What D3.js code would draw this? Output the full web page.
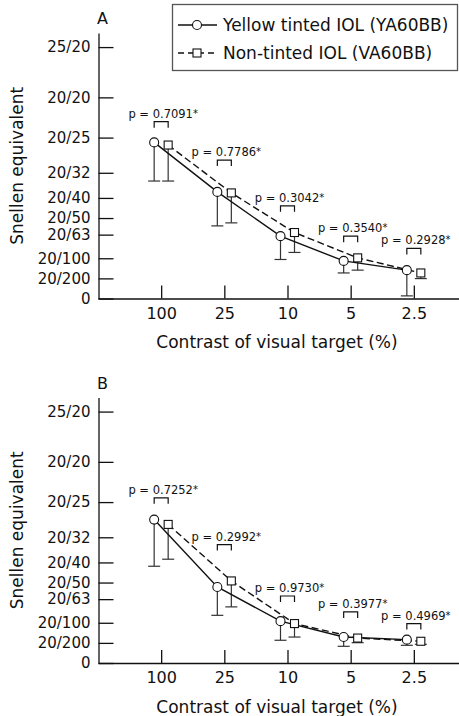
<!DOCTYPE html>
<html>
<head>
<meta charset="utf-8">
<script src="https://cdn.jsdelivr.net/npm/d3@7"></script>
<style>
  body { margin: 0; background: #fff; }
  text { font-family: "DejaVu Sans", sans-serif; fill: #111; }
</style>
</head>
<body>
<svg id="chart" width="459" height="716"></svg>
<script>
// categories + axis ticks (decimal acuity shown as Snellen)
const contrasts = ["100", "25", "10", "5", "2.5"];
const snellenTicks = [0, 0.1, 0.2, 0.3175, 0.4, 0.5, 0.625, 0.8, 1.0, 1.25];
const snellenLabels = ["0", "20/200", "20/100", "20/63", "20/50", "20/40", "20/32", "20/25", "20/20", "25/20"];

// panel A
const yellowA = [0.776, 0.530, 0.310, 0.187, 0.141];
const yellowSdA = [0.192, 0.169, 0.116, 0.060, 0.128];
const nonTintedA = [0.763, 0.525, 0.328, 0.202, 0.127];
const nonTintedSdA = [0.179, 0.149, 0.099, 0.061, 0.028];
const pValuesA = ["0.7091", "0.7786", "0.3042", "0.3540", "0.2928"];
const bracketA = [0.879, 0.688, 0.461, 0.310, 0.249];

// panel B
const yellowB = [0.713, 0.378, 0.208, 0.129, 0.116];
const yellowSdB = [0.232, 0.141, 0.095, 0.046, 0.028];
const nonTintedB = [0.689, 0.408, 0.196, 0.124, 0.108];
const nonTintedSdB = [0.173, 0.129, 0.067, 0.023, 0.015];
const pValuesB = ["0.7252", "0.2992", "0.9730", "0.3977", "0.4969"];
const bracketB = [0.821, 0.589, 0.333, 0.254, 0.196];

const svg = d3.select("#chart");

const x = d3.scalePoint().domain(contrasts).range([98, 477]).padding(1);
const y = d3.scaleLinear().domain([0, 1.32]).range([298.5, 33]);
const off = 7; // side-by-side shift of the two groups

function drawPanel(top, letter, yel, yelSd, non, nonSd, pvals, brackets, legend) {
  const g = svg.append("g").attr("transform", `translate(0,${top})`);

  // y axis
  const ya = g.append("g")
    .attr("transform", "translate(98.5,0)")
    .call(d3.axisLeft(y).tickValues(snellenTicks)
      .tickFormat((d, i) => snellenLabels[i])
      .tickSizeInner(-15).tickSizeOuter(0).tickPadding(8))
    .attr("font-size", 15);
  ya.selectAll("path, line").attr("stroke", "#111").attr("stroke-width", 1.3);

  // x axis
  const xa = g.append("g")
    .attr("transform", `translate(0,${y(0)})`)
    .call(d3.axisBottom(x).tickSizeInner(-13).tickSizeOuter(0).tickPadding(9))
    .attr("font-size", 16);
  xa.selectAll("path, line").attr("stroke", "#111").attr("stroke-width", 1.3);

  g.append("text")
    .attr("x", 97).attr("y", 24)
    .attr("font-size", 16)
    .text(letter);

  g.append("text")
    .attr("transform", `translate(23,${(y(0) + y.range()[1]) / 2}) rotate(-90)`)
    .attr("text-anchor", "middle")
    .attr("font-size", 17)
    .text("Snellen equivalent");

  g.append("text")
    .attr("x", 277).attr("y", 348)
    .attr("text-anchor", "middle")
    .attr("font-size", 17)
    .text("Contrast of visual target (%)");

  const series = [
    { vals: yel, sd: yelSd, dx: -off, dash: null },
    { vals: non, sd: nonSd, dx: off, dash: "7,3.5" }
  ];

  // error bars (lower side only)
  series.forEach(s => {
    const eb = g.append("g").attr("stroke", "#333").attr("stroke-width", 1.2);
    eb.selectAll("line.v").data(s.vals).enter().append("line")
      .attr("x1", (d, i) => x(contrasts[i]) + s.dx)
      .attr("x2", (d, i) => x(contrasts[i]) + s.dx)
      .attr("y1", d => y(d))
      .attr("y2", (d, i) => y(d - s.sd[i]));
    eb.selectAll("line.c").data(s.vals).enter().append("line")
      .attr("x1", (d, i) => x(contrasts[i]) + s.dx - 6)
      .attr("x2", (d, i) => x(contrasts[i]) + s.dx + 6)
      .attr("y1", (d, i) => y(d - s.sd[i]))
      .attr("y2", (d, i) => y(d - s.sd[i]));
  });

  // lines
  series.forEach(s => {
    const line = d3.line()
      .x((d, i) => x(contrasts[i]) + s.dx)
      .y(d => y(d));
    g.append("path").datum(s.vals)
      .attr("d", line)
      .attr("fill", "none")
      .attr("stroke", "#111")
      .attr("stroke-width", 1.4)
      .attr("stroke-dasharray", s.dash);
  });

  // markers
  g.selectAll("circle.m").data(yel).enter().append("circle")
    .attr("cx", (d, i) => x(contrasts[i]) - off)
    .attr("cy", d => y(d))
    .attr("r", 4.5)
    .attr("fill", "#fff").attr("stroke", "#111").attr("stroke-width", 1.1);
  g.selectAll("rect.m").data(non).enter().append("rect")
    .attr("x", (d, i) => x(contrasts[i]) + off - 4)
    .attr("y", d => y(d) - 4)
    .attr("width", 8).attr("height", 8)
    .attr("fill", "#fff").attr("stroke", "#111").attr("stroke-width", 1.1);

  // p-value brackets
  const br = g.append("g");
  br.selectAll("path").data(brackets).enter().append("path")
    .attr("d", (d, i) => {
      const x0 = x(contrasts[i]) - off, x1 = x(contrasts[i]) + off, yy = y(d);
      return `M${x0},${yy + 6}V${yy}H${x1}V${yy + 6}`;
    })
    .attr("fill", "none").attr("stroke", "#111").attr("stroke-width", 1.2);
  const lbl = br.selectAll("text").data(brackets).enter().append("text")
    .attr("x", (d, i) => x(contrasts[i]) + 2)
    .attr("y", d => y(d) - 4)
    .attr("text-anchor", "middle")
    .attr("font-size", 11.5);
  lbl.append("tspan").text((d, i) => "p = " + pvals[i]);
  lbl.append("tspan").attr("font-size", 10).attr("dy", -1).text("*");

  if (legend) {
    const lg = g.append("g");
    lg.append("rect")
      .attr("x", 172.5).attr("y", 4.5).attr("width", 285).attr("height", 66)
      .attr("fill", "#fff").attr("stroke", "#555").attr("stroke-width", 1.3);
    const rows = [
      { label: "Yellow tinted IOL (YA60BB)", dash: null, shape: "circle", yy: 25 },
      { label: "Non-tinted IOL (VA60BB)", dash: "6,4", shape: "square", yy: 53 }
    ];
    rows.forEach(r => {
      lg.append("line")
        .attr("x1", 178).attr("x2", 217).attr("y1", r.yy).attr("y2", r.yy)
        .attr("stroke", "#111").attr("stroke-width", 1.4)
        .attr("stroke-dasharray", r.dash);
      if (r.shape === "circle") {
        lg.append("circle").attr("cx", 197).attr("cy", r.yy).attr("r", 4.5)
          .attr("fill", "#fff").attr("stroke", "#111").attr("stroke-width", 1.1);
      } else {
        lg.append("rect").attr("x", 193).attr("y", r.yy - 4).attr("width", 8).attr("height", 8)
          .attr("fill", "#fff").attr("stroke", "#111").attr("stroke-width", 1.1);
      }
      lg.append("text")
        .attr("x", 223).attr("y", r.yy).attr("dy", "0.36em")
        .attr("font-size", 17)
        .text(r.label);
    });
  }
}

drawPanel(0, "A", yellowA, yellowSdA, nonTintedA, nonTintedSdA, pValuesA, bracketA, true);
drawPanel(364.5, "B", yellowB, yellowSdB, nonTintedB, nonTintedSdB, pValuesB, bracketB, false);
</script>
</body>
</html>
